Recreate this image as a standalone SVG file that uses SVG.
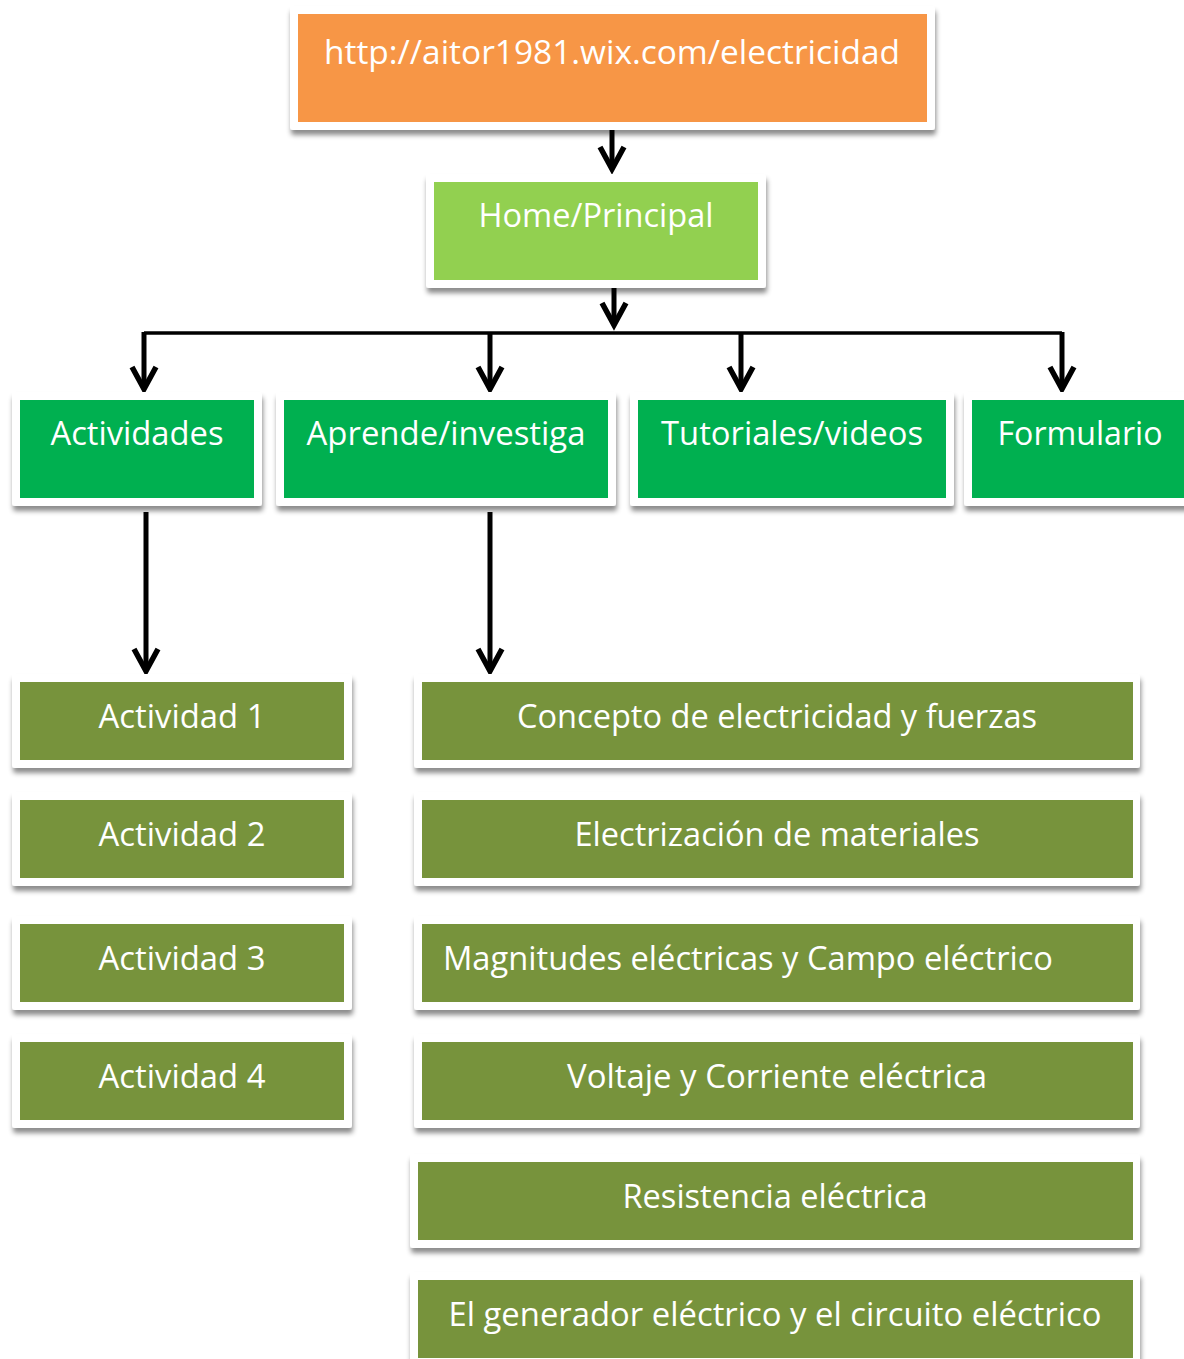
<svg xmlns="http://www.w3.org/2000/svg" width="1184" height="1359" viewBox="0 0 1184 1359">
<style>
.frame{fill:#ffffff;filter:url(#sh)}
.t{font-family:"Open Sans","Liberation Sans",sans-serif;font-size:32px;fill:#ffffff;text-anchor:middle}
.orange{fill:#F79646}
.lg{fill:#92D050}
.g{fill:#00B050}
.ol{fill:#77933C}
.c{stroke:#000;stroke-width:3.5;fill:none}
.ca{stroke:#000;stroke-width:5;fill:none;marker-end:url(#ah)}
</style>
<defs>
<filter id="sh" x="-5%" y="-20%" width="110%" height="150%">
<feDropShadow dx="1" dy="5" stdDeviation="2.5" flood-color="#000" flood-opacity="0.45"/>
</filter>
<marker id="ah" markerUnits="userSpaceOnUse" markerWidth="40" markerHeight="40" refX="0" refY="0" orient="auto" overflow="visible">
<path d="M-22,-12 L0,0 L-22,12" fill="none" stroke="#000" stroke-width="5.5" stroke-linejoin="miter"/>
</marker>
</defs>
<rect width="1184" height="1359" fill="#ffffff"/>

<g id="connectors">
<path class="ca" d="M612,130 V169"/>
<path class="ca" d="M614,287 V325"/>
<path class="c" d="M144,333 H1062"/>
<path class="ca" d="M144,332 V389"/>
<path class="ca" d="M490,333 V389"/>
<path class="ca" d="M741,333 V389"/>
<path class="ca" d="M1062,332 V389"/>
<path class="ca" d="M146,512 V671"/>
<path class="ca" d="M490,512 V671"/>
</g>

<g id="n-url">
<rect class="frame" x="290" y="6" width="645" height="124" rx="3"/>
<rect class="orange" x="298" y="14" width="629" height="108"/>
<text class="t" x="612" y="64" textLength="576" lengthAdjust="spacingAndGlyphs">http://aitor1981.wix.com/electricidad</text>
</g>
<g id="n-home">
<rect class="frame" x="426" y="174" width="340" height="114" rx="3"/>
<rect class="lg" x="434" y="182" width="324" height="98"/>
<text class="t" x="596" y="227" textLength="235" lengthAdjust="spacingAndGlyphs">Home/Principal</text>
</g>
<g id="n-actividades">
<rect class="frame" x="12" y="392" width="250" height="114" rx="3"/>
<rect class="g" x="20" y="400" width="234" height="98"/>
<text class="t" x="137" y="445" textLength="173" lengthAdjust="spacingAndGlyphs">Actividades</text>
</g>
<g id="n-aprende">
<rect class="frame" x="276" y="392" width="340" height="114" rx="3"/>
<rect class="g" x="284" y="400" width="324" height="98"/>
<text class="t" x="446" y="445" textLength="279" lengthAdjust="spacingAndGlyphs">Aprende/investiga</text>
</g>
<g id="n-tutoriales">
<rect class="frame" x="630" y="392" width="324" height="114" rx="3"/>
<rect class="g" x="638" y="400" width="308" height="98"/>
<text class="t" x="792" y="445" textLength="262" lengthAdjust="spacingAndGlyphs">Tutoriales/videos</text>
</g>
<g id="n-formulario">
<rect class="frame" x="964" y="392" width="250" height="114" rx="3"/>
<rect class="g" x="972" y="400" width="234" height="98"/>
<text class="t" x="1080" y="445" textLength="165" lengthAdjust="spacingAndGlyphs">Formulario</text>
</g>

<g id="n-act1">
<rect class="frame" x="12" y="674" width="340" height="94" rx="3"/>
<rect class="ol" x="20" y="682" width="324" height="78"/>
<text class="t" x="182" y="728" textLength="167" lengthAdjust="spacingAndGlyphs">Actividad 1</text>
</g>
<g id="n-act2">
<rect class="frame" x="12" y="792" width="340" height="94" rx="3"/>
<rect class="ol" x="20" y="800" width="324" height="78"/>
<text class="t" x="182" y="846" textLength="167" lengthAdjust="spacingAndGlyphs">Actividad 2</text>
</g>
<g id="n-act3">
<rect class="frame" x="12" y="916" width="340" height="94" rx="3"/>
<rect class="ol" x="20" y="924" width="324" height="78"/>
<text class="t" x="182" y="970" textLength="167" lengthAdjust="spacingAndGlyphs">Actividad 3</text>
</g>
<g id="n-act4">
<rect class="frame" x="12" y="1034" width="340" height="94" rx="3"/>
<rect class="ol" x="20" y="1042" width="324" height="78"/>
<text class="t" x="182" y="1088" textLength="167" lengthAdjust="spacingAndGlyphs">Actividad 4</text>
</g>

<g id="n-concepto">
<rect class="frame" x="414" y="674" width="726" height="94" rx="3"/>
<rect class="ol" x="422" y="682" width="711" height="78"/>
<text class="t" x="777" y="728" textLength="520" lengthAdjust="spacingAndGlyphs">Concepto de electricidad y fuerzas</text>
</g>
<g id="n-electrizacion">
<rect class="frame" x="414" y="792" width="726" height="94" rx="3"/>
<rect class="ol" x="422" y="800" width="711" height="78"/>
<text class="t" x="777" y="846" textLength="405" lengthAdjust="spacingAndGlyphs">Electrización de materiales</text>
</g>
<g id="n-magnitudes">
<rect class="frame" x="414" y="916" width="726" height="94" rx="3"/>
<rect class="ol" x="422" y="924" width="711" height="78"/>
<text class="t" x="748" y="970" textLength="610" lengthAdjust="spacingAndGlyphs">Magnitudes eléctricas y Campo eléctrico</text>
</g>
<g id="n-voltaje">
<rect class="frame" x="414" y="1034" width="726" height="94" rx="3"/>
<rect class="ol" x="422" y="1042" width="711" height="78"/>
<text class="t" x="777" y="1088" textLength="420" lengthAdjust="spacingAndGlyphs">Voltaje y Corriente eléctrica</text>
</g>
<g id="n-resistencia">
<rect class="frame" x="410" y="1154" width="730" height="94" rx="3"/>
<rect class="ol" x="418" y="1162" width="715" height="78"/>
<text class="t" x="775" y="1208" textLength="305" lengthAdjust="spacingAndGlyphs">Resistencia eléctrica</text>
</g>
<g id="n-generador">
<rect class="frame" x="410" y="1272" width="730" height="94" rx="3"/>
<rect class="ol" x="418" y="1280" width="715" height="78"/>
<text class="t" x="775" y="1326" textLength="653" lengthAdjust="spacingAndGlyphs">El generador eléctrico y el circuito eléctrico</text>
</g>
</svg>
